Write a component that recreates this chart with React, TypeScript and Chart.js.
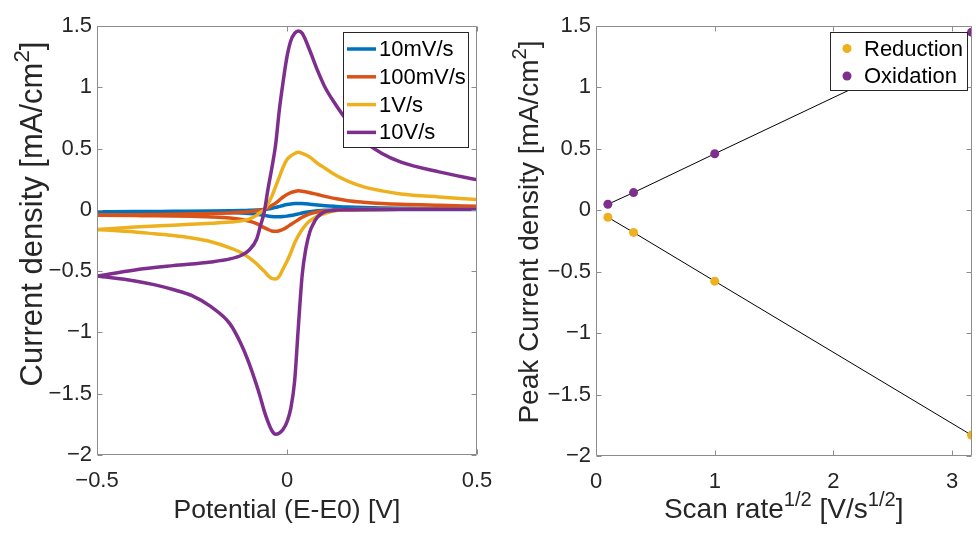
import React, { useEffect, useRef } from "react";
import { Chart, registerables } from "chart.js";

Chart.register(...registerables);

const FONT = "'Liberation Sans', Arial, Helvetica, sans-serif";
const TEXT = "#262626";
const AXIS = "#8c8c8c";

// ---------- Left panel: cyclic voltammograms ----------
const scanLabels = ["10mV/s", "100mV/s", "1V/s", "10V/s"];
const scanColors = ["#0072BD", "#D95319", "#EDB120", "#7E2F8E"];

const potentialFwd = [-0.5, -0.4, -0.3, -0.2, -0.15, -0.12, -0.1, -0.08, -0.07, -0.06, -0.05, -0.04, -0.03, -0.02, -0.01, 0, 0.01, 0.02, 0.03, 0.04, 0.06, 0.08, 0.1, 0.13, 0.16, 0.2, 0.25, 0.3, 0.4, 0.5];
const potentialRev = [0.5, 0.4, 0.3, 0.2, 0.15, 0.12, 0.1, 0.08, 0.07, 0.06, 0.05, 0.04, 0.03, 0.02, 0.01, 0, -0.01, -0.02, -0.03, -0.04, -0.05, -0.06, -0.07, -0.08, -0.1, -0.12, -0.15, -0.2, -0.25, -0.3, -0.35, -0.4, -0.5];

const i10mVFwd = [-0.015, -0.014, -0.012, -0.01, -0.008, -0.006, -0.004, -0.002, 0.0, 0.003, 0.007, 0.013, 0.02, 0.028, 0.036, 0.043, 0.048, 0.051, 0.052, 0.051, 0.046, 0.04, 0.034, 0.028, 0.023, 0.019, 0.016, 0.014, 0.011, 0.01];
const i10mVRev = [0.002, 0.002, 0.002, 0.001, 0.0, -0.002, -0.004, -0.008, -0.011, -0.015, -0.02, -0.026, -0.033, -0.04, -0.046, -0.051, -0.055, -0.057, -0.057, -0.055, -0.05, -0.045, -0.04, -0.036, -0.03, -0.026, -0.022, -0.019, -0.017, -0.016, -0.016, -0.015, -0.015];

const i100mVFwd = [-0.045, -0.04, -0.035, -0.03, -0.025, -0.02, -0.015, -0.007, -0.002, 0.005, 0.015, 0.035, 0.055, 0.08, 0.105, 0.125, 0.14, 0.15, 0.155, 0.152, 0.14, 0.125, 0.11, 0.09, 0.075, 0.063, 0.052, 0.045, 0.037, 0.03];
const i100mVRev = [0.004, 0.004, 0.004, 0.002, 0.0, -0.004, -0.008, -0.017, -0.024, -0.033, -0.045, -0.06, -0.08, -0.1, -0.12, -0.14, -0.158, -0.17, -0.175, -0.172, -0.16, -0.145, -0.128, -0.112, -0.092, -0.078, -0.067, -0.058, -0.053, -0.05, -0.048, -0.047, -0.045];

const i1VFwd = [-0.16, -0.14, -0.125, -0.11, -0.1, -0.09, -0.075, -0.045, -0.02, 0.0, 0.05, 0.11, 0.19, 0.27, 0.35, 0.41, 0.44, 0.46, 0.47, 0.46, 0.43, 0.38, 0.34, 0.28, 0.235, 0.19, 0.155, 0.13, 0.105, 0.085];
const i1VRev = [0.005, 0.005, 0.005, 0.003, 0.0, -0.012, -0.03, -0.05, -0.07, -0.09, -0.12, -0.16, -0.21, -0.27, -0.35, -0.42, -0.48, -0.54, -0.565, -0.56, -0.535, -0.5, -0.47, -0.44, -0.39, -0.35, -0.31, -0.26, -0.23, -0.21, -0.195, -0.18, -0.16];

const i10VFwd = [-0.54, -0.49, -0.455, -0.425, -0.4, -0.37, -0.33, -0.24, -0.13, -0.02, 0.17, 0.34, 0.53, 0.82, 1.05, 1.25, 1.38, 1.44, 1.46, 1.44, 1.3, 1.14, 1.0, 0.85, 0.72, 0.57, 0.46, 0.39, 0.31, 0.245];
const i10VRev = [0.005, 0.005, 0.005, 0.003, 0.0, -0.006, -0.015, -0.06, -0.11, -0.18, -0.31, -0.53, -0.95, -1.4, -1.62, -1.73, -1.79, -1.82, -1.83, -1.8, -1.73, -1.64, -1.53, -1.43, -1.25, -1.1, -0.93, -0.79, -0.7, -0.65, -0.61, -0.58, -0.54];

const currentsFwd = [i10mVFwd, i100mVFwd, i1VFwd, i10VFwd];
const currentsRev = [i10mVRev, i100mVRev, i1VRev, i10VRev];

const leftXTicks = [-0.5, 0, 0.5];
const yTicks = [-2, -1.5, -1, -0.5, 0, 0.5, 1, 1.5];

// ---------- Right panel: peak current vs sqrt(scan rate) ----------
const sqrtScanRate = [0.1, 0.3162, 1, 3.1623];
const peakReduction = [-0.057, -0.18, -0.577, -1.83];
const peakOxidation = [0.049, 0.144, 0.46, 1.45];
const peakLabels = ["Reduction", "Oxidation"];
const peakColors = ["#EDB120", "#7E2F8E"];
const rightXTicks = [0, 1, 2, 3];

type Seg = { t: string; sup?: boolean };

const fmt = (v: number | string) => String(v).replace("-", "\u2212");

function drawRich(ctx: CanvasRenderingContext2D, segs: Seg[], x: number, y: number, size: number, rotate: boolean) {
  ctx.save();
  ctx.translate(x, y);
  if (rotate) ctx.rotate(-Math.PI / 2);
  const supSize = size * 0.72;
  const widths = segs.map((s) => {
    ctx.font = `${s.sup ? supSize : size}px ${FONT}`;
    return ctx.measureText(s.t).width;
  });
  const total = widths.reduce((a, b) => a + b, 0);
  let cx = -total / 2;
  ctx.fillStyle = TEXT;
  ctx.textBaseline = "alphabetic";
  ctx.textAlign = "left";
  segs.forEach((s, i) => {
    ctx.font = `${s.sup ? supSize : size}px ${FONT}`;
    ctx.fillText(s.t, cx, s.sup ? -size * 0.42 : 0);
    cx += widths[i];
  });
  ctx.restore();
}

type LegendCfg = { kind: "line" | "dot"; labels: string[]; colors: string[]; x: number; y: number; w: number; h: number; row0: number; rowStep: number; markX: number; textX: number };
type DecoCfg = { xTitle: Seg[]; yTitle: Seg[]; xTitleY: number; xTitleSize: number; yTitleX: number; yTitleCY: number; yTitleSize: number; legend: LegendCfg };

const decoPlugin = {
  id: "matlabDeco",
  afterDatasetsDraw(chart: any, _args: any, opts: DecoCfg) {
    const ctx: CanvasRenderingContext2D = chart.ctx;
    const { left, right, top, bottom } = chart.chartArea;
    const xs = chart.scales.x;
    const ys = chart.scales.y;
    ctx.save();
    // box + inward ticks
    ctx.strokeStyle = AXIS;
    ctx.lineWidth = 1;
    ctx.beginPath();
    const L = Math.round(left) + 0.5, R = Math.round(right) - 0.5, T = Math.round(top) + 0.5, B = Math.round(bottom) - 0.5;
    ctx.rect(L, T, R - L, B - T);
    xs.ticks.forEach((t: any) => {
      const px = Math.round(xs.getPixelForValue(t.value)) + 0.5;
      ctx.moveTo(px, B); ctx.lineTo(px, B - 5);
      ctx.moveTo(px, T); ctx.lineTo(px, T + 5);
    });
    ys.ticks.forEach((t: any) => {
      const py = Math.round(ys.getPixelForValue(t.value)) + 0.5;
      ctx.moveTo(L, py); ctx.lineTo(L + 5, py);
      ctx.moveTo(R, py); ctx.lineTo(R - 5, py);
    });
    ctx.stroke();

    // legend
    const lg = opts.legend;
    ctx.fillStyle = "#ffffff";
    ctx.fillRect(lg.x, lg.y, lg.w, lg.h);
    ctx.strokeStyle = "#262626";
    ctx.lineWidth = 1;
    ctx.strokeRect(lg.x + 0.5, lg.y + 0.5, lg.w, lg.h);
    ctx.font = `22px ${FONT}`;
    ctx.textBaseline = "middle";
    ctx.textAlign = "left";
    lg.labels.forEach((lab, i) => {
      const yy = lg.y + lg.row0 + i * lg.rowStep;
      if (lg.kind === "line") {
        ctx.strokeStyle = lg.colors[i];
        ctx.lineWidth = 3.5;
        ctx.beginPath();
        ctx.moveTo(lg.x + lg.markX, yy);
        ctx.lineTo(lg.x + lg.markX + 29, yy);
        ctx.stroke();
      } else {
        ctx.fillStyle = lg.colors[i];
        ctx.beginPath();
        ctx.arc(lg.x + lg.markX, yy, 4.5, 0, Math.PI * 2);
        ctx.fill();
      }
      ctx.fillStyle = "#000000";
      ctx.fillText(lab, lg.x + lg.textX, yy + 1);
    });

    // axis titles
    drawRich(ctx, opts.xTitle, (left + right) / 2, opts.xTitleY, opts.xTitleSize, false);
    drawRich(ctx, opts.yTitle, opts.yTitleX, opts.yTitleCY, opts.yTitleSize, true);
    ctx.restore();
  },
};

function axisCommon(ticksArr: number[], min: number, max: number, isX: boolean, size: number, pad: number) {
  return {
    type: "linear" as const,
    min,
    max,
    afterBuildTicks: (s: any) => {
      s.ticks = ticksArr.map((v) => ({ value: v }));
    },
    afterFit: (s: any) => {
      if (isX) {
        s.height = size;
        s.paddingLeft = 0;
        s.paddingRight = 0;
      } else {
        s.width = size;
        s.paddingTop = 0;
        s.paddingBottom = 0;
      }
    },
    grid: { display: false, drawTicks: false },
    border: { display: false },
    ticks: {
      padding: pad,
      color: TEXT,
      font: { family: FONT, size: 22 },
      maxRotation: 0,
      autoSkip: false,
      callback: (v: number) => fmt(v),
    },
  };
}

export default function App() {
  const leftRef = useRef<HTMLCanvasElement>(null);
  const rightRef = useRef<HTMLCanvasElement>(null);

  useEffect(() => {
    const leftDatasets: any[] = [];
    scanLabels.forEach((lab, i) => {
      leftDatasets.push({
        label: lab,
        data: potentialFwd.map((x, k) => ({ x, y: currentsFwd[i][k] })),
        borderColor: scanColors[i],
        borderWidth: 3.5,
        pointRadius: 0,
        cubicInterpolationMode: "monotone",
        order: 3 - i,
        clip: 0,
      });
      leftDatasets.push({
        label: lab + " (reverse)",
        data: potentialRev.map((x, k) => ({ x, y: currentsRev[i][k] })),
        borderColor: scanColors[i],
        borderWidth: 3.5,
        pointRadius: 0,
        cubicInterpolationMode: "monotone",
        order: 3 - i,
        clip: 0,
      });
    });

    const left = new Chart(leftRef.current!, {
      type: "line",
      data: { datasets: leftDatasets },
      options: {
        responsive: false,
        animation: false,
        devicePixelRatio: 1,
        layout: { padding: { left: 0, right: 23, top: 26, bottom: 0 } },
        plugins: {
          legend: { display: false },
          tooltip: { enabled: false },
          matlabDeco: {
            xTitle: [{ t: "Potential (E-E0) [V]" }],
            yTitle: [{ t: "Current density [mA/cm" }, { t: "2", sup: true }, { t: "]" }],
            xTitleY: 518,
            xTitleSize: 26.5,
            yTitleX: 42,
            yTitleCY: 214,
            yTitleSize: 31,
            legend: {
              kind: "line",
              labels: scanLabels,
              colors: scanColors,
              x: 343, y: 32, w: 125, h: 115,
              row0: 17, rowStep: 27.8, markX: 4, textX: 36,
            },
          },
        } as any,
        scales: {
          x: axisCommon(leftXTicks, -0.5, 0.5, true, 79, 13),
          y: axisCommon(yTicks, -2, 1.5, false, 97, 5),
        } as any,
      },
      plugins: [decoPlugin],
    });

    const right = new Chart(rightRef.current!, {
      type: "line",
      data: {
        datasets: [
          {
            label: peakLabels[0],
            data: sqrtScanRate.map((x, k) => ({ x, y: peakReduction[k] })),
            borderColor: "#000000",
            borderWidth: 1,
            pointRadius: 4.5,
            pointBackgroundColor: peakColors[0],
            pointBorderWidth: 0,
            tension: 0,
            clip: 0,
          },
          {
            label: peakLabels[1],
            data: sqrtScanRate.map((x, k) => ({ x, y: peakOxidation[k] })),
            borderColor: "#000000",
            borderWidth: 1,
            pointRadius: 4.5,
            pointBackgroundColor: peakColors[1],
            pointBorderWidth: 0,
            tension: 0,
            clip: 0,
          },
        ] as any,
      },
      options: {
        responsive: false,
        animation: false,
        devicePixelRatio: 1,
        layout: { padding: { left: 0, right: 1, top: 26, bottom: 0 } },
        plugins: {
          legend: { display: false },
          tooltip: { enabled: false },
          matlabDeco: {
            xTitle: [{ t: "Scan rate" }, { t: "1/2", sup: true }, { t: " [V/s" }, { t: "1/2", sup: true }, { t: "]" }],
            yTitle: [{ t: "Peak Current density [mA/cm" }, { t: "2", sup: true }, { t: "]" }],
            xTitleY: 518,
            xTitleSize: 28,
            yTitleX: 50,
            yTitleCY: 232,
            yTitleSize: 28,
            legend: {
              kind: "dot",
              labels: peakLabels,
              colors: peakColors,
              x: 342, y: 32, w: 137, h: 58,
              row0: 16.5, rowStep: 27.5, markX: 17, textX: 34,
            },
          },
        } as any,
        scales: {
          x: axisCommon(rightXTicks, 0, Math.sqrt(10), true, 78, 13),
          y: axisCommon(yTicks, -2, 1.5, false, 108, 5),
        } as any,
      },
      plugins: [decoPlugin],
    });

    return () => {
      left.destroy();
      right.destroy();
    };
  }, []);

  return (
    <div style={{ position: "absolute", left: 0, top: 0, width: 976, height: 534, background: "#ffffff", overflow: "hidden" }}>
      <canvas ref={leftRef} width={500} height={534} style={{ position: "absolute", left: 0, top: 0, width: 500, height: 534 }} />
      <canvas ref={rightRef} width={488} height={534} style={{ position: "absolute", left: 488, top: 0, width: 488, height: 534 }} />
    </div>
  );
}
